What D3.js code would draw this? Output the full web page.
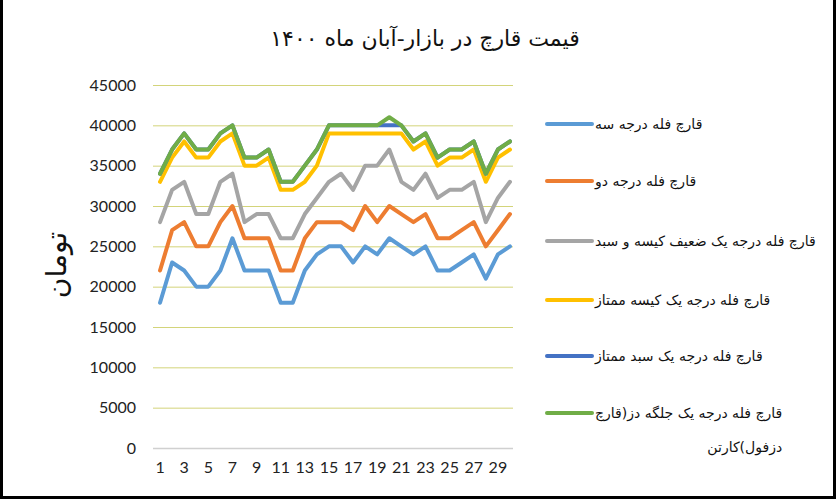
<!DOCTYPE html>
<html><head><meta charset="utf-8">
<script src="https://cdn.jsdelivr.net/npm/d3@7"></script>
<style>html,body{margin:0;padding:0;background:#fff;}svg{display:block;}</style>
</head><body>
<svg id="c" width="836" height="499"></svg>
<script>
const days = d3.range(1, 31);
const xTickLabels = [1,3,5,7,9,11,13,15,17,19,21,23,25,27,29];
const yTicks = [0,5000,10000,15000,20000,25000,30000,35000,40000,45000];
const seriesNames = [
  "قارچ فله درجه سه",
  "قارچ فله درجه دو",
  "قارچ فله درجه یک ضعیف کیسه و سبد",
  "قارچ فله درجه یک کیسه ممتاز",
  "قارچ فله درجه یک سبد ممتاز",
  "قارچ فله درجه یک جلگه دز(قارچ دزفول)کارتن"
];
const legendLast = ["قارچ فله درجه یک جلگه دز(قارچ", "دزفول)کارتن"];
const grade3 = [18000,23000,22000,20000,20000,22000,26000,22000,22000,22000,18000,18000,22000,24000,25000,25000,23000,25000,24000,26000,25000,24000,25000,22000,22000,23000,24000,21000,24000,25000];
const grade2 = [22000,27000,28000,25000,25000,28000,30000,26000,26000,26000,22000,22000,26000,28000,28000,28000,27000,30000,28000,30000,29000,28000,29000,26000,26000,27000,28000,25000,27000,29000];
const grade1Weak = [28000,32000,33000,29000,29000,33000,34000,28000,29000,29000,26000,26000,29000,31000,33000,34000,32000,35000,35000,37000,33000,32000,34000,31000,32000,32000,33000,28000,31000,33000];
const grade1Bag = [33000,36000,38000,36000,36000,38000,39000,35000,35000,36000,32000,32000,33000,35000,39000,39000,39000,39000,39000,39000,39000,37000,38000,35000,36000,36000,37000,33000,36000,37000];
const grade1Basket = [34000,37000,39000,37000,37000,39000,40000,36000,36000,37000,33000,33000,35000,37000,40000,40000,40000,40000,40000,40000,40000,38000,39000,36000,37000,37000,38000,34000,37000,38000];
const grade1Dez = [34000,37000,39000,37000,37000,39000,40000,36000,36000,37000,33000,33000,35000,37000,40000,40000,40000,40000,40000,41000,40000,38000,39000,36000,37000,37000,38000,34000,37000,38000];
const colors = ["#5b9bd5","#ed7d31","#a5a5a5","#ffc000","#4472c4","#70ad47"];
const allSeries = [grade3, grade2, grade1Weak, grade1Bag, grade1Basket, grade1Dez];
const title = "قیمت قارچ در بازار-آبان ماه ۱۴۰۰";
const yTitle = "تومان";

const svg = d3.select("#c");
const fa = "'DejaVu Sans', sans-serif";
const num = "Lato, 'Open Sans', sans-serif";

svg.append("rect").attr("x",1.5).attr("y",-5).attr("width",833).attr("height",502.5)
  .attr("fill","#fff").attr("stroke","#000").attr("stroke-width",3);

const x = d3.scaleBand().domain(days).range([154, 516]);
const xc = d => x(d) + x.bandwidth()/2;
const y = d3.scaleLinear().domain([0, 45000]).range([448, 85]);

// grid
const gy = svg.append("g").attr("transform","translate(153,0)")
  .call(d3.axisLeft(y).tickValues(yTicks).tickSize(-360).tickFormat(d=>d).tickPadding(17));
gy.select(".domain").remove();
gy.selectAll(".tick line").attr("stroke", d => d===0 ? "#d0d0d0" : "#d3d47a").attr("stroke-width", d=> d===0?1.5:1);
gy.selectAll(".tick text").attr("font-family", num).attr("font-size", 16).attr("fill","#222");

const gx = svg.append("g").attr("transform","translate(0,448)")
  .call(d3.axisBottom(x).tickValues(xTickLabels).tickSize(0).tickPadding(14));
gx.select(".domain").remove();
gx.selectAll(".tick text").attr("font-family", num).attr("font-size", 16).attr("fill","#222");

const line = d3.line().x((v,i)=>xc(days[i])).y(v=>y(v));
allSeries.forEach((s,i)=>{
  svg.append("path").attr("d", line(s)).attr("fill","none").attr("stroke",colors[i])
    .attr("stroke-width",4).attr("stroke-linejoin","round").attr("stroke-linecap","round");
});

svg.append("text").attr("x",425).attr("y",46).attr("text-anchor","middle")
  .attr("font-family",fa).attr("font-size",22).attr("fill","#111").text(title);

svg.append("text").attr("transform","translate(66,265) rotate(-90)").attr("text-anchor","middle")
  .attr("font-family",fa).attr("font-size",28).attr("fill","#111").text(yTitle);

// legend
const legY = [124, 181, 241, 300, 356, 413];
seriesNames.forEach((n,i)=>{
  svg.append("line").attr("x1",547).attr("x2",592).attr("y1",legY[i]).attr("y2",legY[i])
    .attr("stroke",colors[i]).attr("stroke-width",4).attr("stroke-linecap","round");
  if (i < 5) {
    svg.append("text").attr("x",595).attr("y",legY[i]+5).attr("font-family",fa)
      .attr("font-size",14).attr("fill","#111").text(n);
  } else {
    const t1 = svg.append("text").attr("x",595).attr("y",legY[i]+5).attr("font-family",fa)
      .attr("font-size",14).attr("fill","#111").text(legendLast[0]);
    const w = t1.node().getComputedTextLength();
    svg.append("text").attr("x",595+w).attr("y",legY[i]+39).attr("text-anchor","end").attr("font-family",fa)
      .attr("font-size",14).attr("fill","#111").text(legendLast[1]);
  }
});
</script>
</body></html>
